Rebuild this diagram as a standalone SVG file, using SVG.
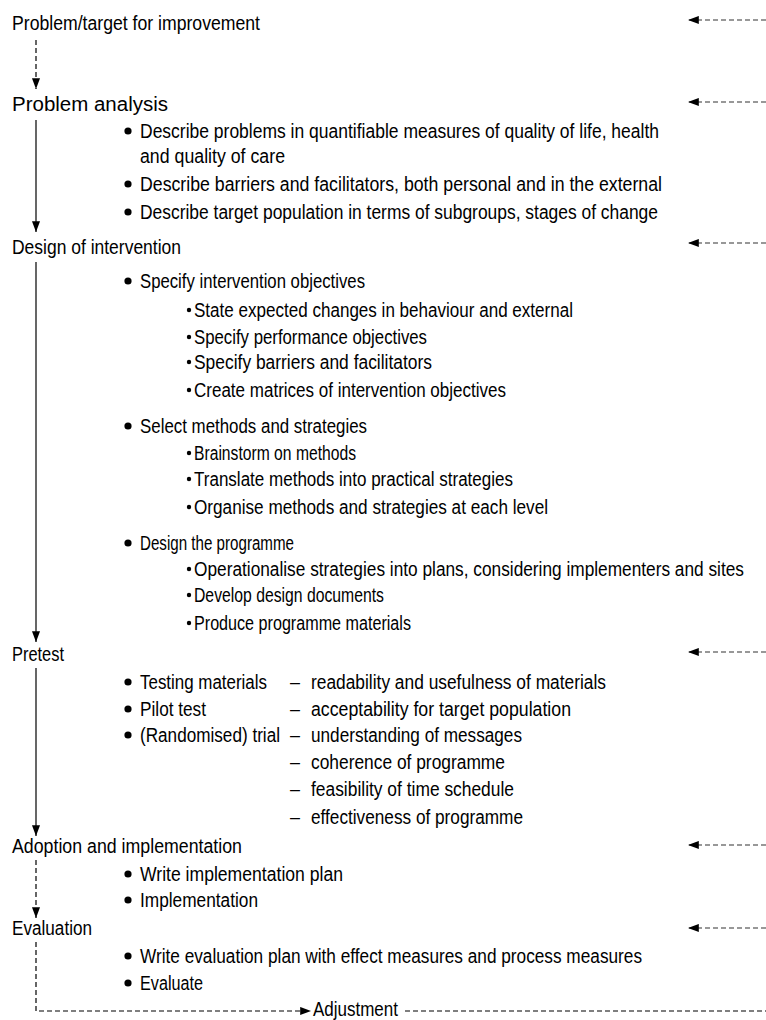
<svg xmlns="http://www.w3.org/2000/svg" width="766" height="1020" viewBox="0 0 766 1020">
<style>
text{font-family:"Liberation Sans",Arial,sans-serif;font-size:20px;fill:#000}
.conn{stroke:#000;stroke-width:1.2;fill:none}
.dash{stroke-dasharray:5,3}
.fb{stroke:#333;stroke-width:1.2;stroke-dasharray:5,3;fill:none}
</style>
<defs>
<marker id="ahl" viewBox="0 0 12 10" refX="12" refY="5" markerWidth="12" markerHeight="9" markerUnits="userSpaceOnUse" orient="auto"><path d="M0,0.5 L12,5 L0,9.5 Z" fill="#000"/></marker>
</defs>
<g id="connectors">
<line class="conn dash" x1="36" y1="40" x2="36" y2="89" marker-end="url(#ahl)"/>
<line class="conn" x1="36" y1="120" x2="36" y2="232" marker-end="url(#ahl)"/>
<line class="conn" x1="36" y1="262" x2="36" y2="642" marker-end="url(#ahl)"/>
<line class="conn" x1="36" y1="668" x2="36" y2="836" marker-end="url(#ahl)"/>
<line class="conn dash" x1="36" y1="860" x2="36" y2="918" marker-end="url(#ahl)"/>
<polyline class="conn dash" points="36,942 36,1011 311,1011" marker-end="url(#ahl)"/>
<line class="conn dash" x1="405" y1="1011" x2="766" y2="1011"/>
<line class="fb" x1="766" y1="20" x2="688" y2="20" marker-end="url(#ahl)"/>
<line class="fb" x1="766" y1="102" x2="688" y2="102" marker-end="url(#ahl)"/>
<line class="fb" x1="766" y1="243" x2="688" y2="243" marker-end="url(#ahl)"/>
<line class="fb" x1="766" y1="652" x2="688" y2="652" marker-end="url(#ahl)"/>
<line class="fb" x1="766" y1="845" x2="688" y2="845" marker-end="url(#ahl)"/>
<line class="fb" x1="766" y1="928" x2="688" y2="928" marker-end="url(#ahl)"/>
</g>
<g id="n-problem-target"><text x="12" y="30" textLength="248" lengthAdjust="spacingAndGlyphs">Problem/target for improvement</text></g>
<g id="n-problem-analysis">
<text x="12" y="111" textLength="156" lengthAdjust="spacingAndGlyphs">Problem analysis</text>
<circle cx="128" cy="131" r="3.6"/><text x="140" y="138" textLength="519" lengthAdjust="spacingAndGlyphs">Describe problems in quantifiable measures of quality of life, health</text>
<text x="140" y="163" textLength="145" lengthAdjust="spacingAndGlyphs">and quality of care</text>
<circle cx="128" cy="184" r="3.6"/><text x="140" y="191" textLength="522" lengthAdjust="spacingAndGlyphs">Describe barriers and facilitators, both personal and in the external</text>
<circle cx="128" cy="212" r="3.6"/><text x="140" y="219" textLength="518" lengthAdjust="spacingAndGlyphs">Describe target population in terms of subgroups, stages of change</text>
</g>
<g id="n-design">
<text x="12" y="254" textLength="169" lengthAdjust="spacingAndGlyphs">Design of intervention</text>
<circle cx="128" cy="281" r="3.6"/><text x="140" y="288" textLength="225" lengthAdjust="spacingAndGlyphs">Specify intervention objectives</text>
<circle cx="189" cy="310" r="2.2"/><text x="194" y="317" textLength="379" lengthAdjust="spacingAndGlyphs">State expected changes in behaviour and external</text>
<circle cx="189" cy="337" r="2.2"/><text x="194" y="344" textLength="233" lengthAdjust="spacingAndGlyphs">Specify performance objectives</text>
<circle cx="189" cy="362" r="2.2"/><text x="194" y="369" textLength="238" lengthAdjust="spacingAndGlyphs">Specify barriers and facilitators</text>
<circle cx="189" cy="390" r="2.2"/><text x="194" y="397" textLength="312" lengthAdjust="spacingAndGlyphs">Create matrices of intervention objectives</text>
<circle cx="128" cy="426" r="3.6"/><text x="140" y="433" textLength="227" lengthAdjust="spacingAndGlyphs">Select methods and strategies</text>
<circle cx="189" cy="453" r="2.2"/><text x="194" y="460" textLength="162" lengthAdjust="spacingAndGlyphs">Brainstorm on methods</text>
<circle cx="189" cy="479" r="2.2"/><text x="194" y="486" textLength="319" lengthAdjust="spacingAndGlyphs">Translate methods into practical strategies</text>
<circle cx="189" cy="507" r="2.2"/><text x="194" y="514" textLength="354" lengthAdjust="spacingAndGlyphs">Organise methods and strategies at each level</text>
<circle cx="128" cy="543" r="3.6"/><text x="140" y="550" textLength="154" lengthAdjust="spacingAndGlyphs">Design the programme</text>
<circle cx="189" cy="569" r="2.2"/><text x="194" y="576" textLength="550" lengthAdjust="spacingAndGlyphs">Operationalise strategies into plans, considering implementers and sites</text>
<circle cx="189" cy="595" r="2.2"/><text x="194" y="602" textLength="190" lengthAdjust="spacingAndGlyphs">Develop design documents</text>
<circle cx="189" cy="623" r="2.2"/><text x="194" y="630" textLength="217" lengthAdjust="spacingAndGlyphs">Produce programme materials</text>
</g>
<g id="n-pretest">
<text x="12" y="661" textLength="52" lengthAdjust="spacingAndGlyphs">Pretest</text>
<circle cx="128" cy="682" r="3.6"/><text x="140" y="689" textLength="127" lengthAdjust="spacingAndGlyphs">Testing materials</text>
<circle cx="128" cy="709" r="3.6"/><text x="140" y="716" textLength="66" lengthAdjust="spacingAndGlyphs">Pilot test</text>
<circle cx="128" cy="735" r="3.6"/><text x="140" y="742" textLength="140" lengthAdjust="spacingAndGlyphs">(Randomised) trial</text>
<text x="290" y="689" textLength="10" lengthAdjust="spacingAndGlyphs">–</text><text x="311" y="689" textLength="295" lengthAdjust="spacingAndGlyphs">readability and usefulness of materials</text>
<text x="290" y="716" textLength="10" lengthAdjust="spacingAndGlyphs">–</text><text x="311" y="716" textLength="260" lengthAdjust="spacingAndGlyphs">acceptability for target population</text>
<text x="290" y="742" textLength="10" lengthAdjust="spacingAndGlyphs">–</text><text x="311" y="742" textLength="211" lengthAdjust="spacingAndGlyphs">understanding of messages</text>
<text x="290" y="769" textLength="10" lengthAdjust="spacingAndGlyphs">–</text><text x="311" y="769" textLength="194" lengthAdjust="spacingAndGlyphs">coherence of programme</text>
<text x="290" y="796" textLength="10" lengthAdjust="spacingAndGlyphs">–</text><text x="311" y="796" textLength="203" lengthAdjust="spacingAndGlyphs">feasibility of time schedule</text>
<text x="290" y="824" textLength="10" lengthAdjust="spacingAndGlyphs">–</text><text x="311" y="824" textLength="212" lengthAdjust="spacingAndGlyphs">effectiveness of programme</text>
</g>
<g id="n-adoption">
<text x="12" y="853" textLength="230" lengthAdjust="spacingAndGlyphs">Adoption and implementation</text>
<circle cx="128" cy="874" r="3.6"/><text x="140" y="881" textLength="203" lengthAdjust="spacingAndGlyphs">Write implementation plan</text>
<circle cx="128" cy="900" r="3.6"/><text x="140" y="907" textLength="118" lengthAdjust="spacingAndGlyphs">Implementation</text>
</g>
<g id="n-evaluation">
<text x="12" y="935" textLength="80" lengthAdjust="spacingAndGlyphs">Evaluation</text>
<circle cx="128" cy="956" r="3.6"/><text x="140" y="963" textLength="502" lengthAdjust="spacingAndGlyphs">Write evaluation plan with effect measures and process measures</text>
<circle cx="128" cy="983" r="3.6"/><text x="140" y="990" textLength="63" lengthAdjust="spacingAndGlyphs">Evaluate</text>
</g>
<g id="n-adjustment"><text x="313" y="1016" textLength="85" lengthAdjust="spacingAndGlyphs">Adjustment</text></g>
</svg>
